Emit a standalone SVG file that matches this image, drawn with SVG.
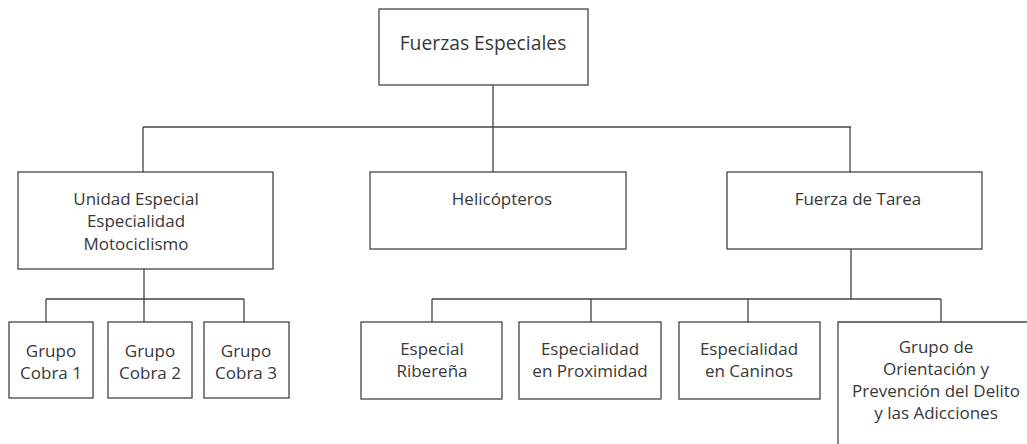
<svg xmlns="http://www.w3.org/2000/svg" width="1027" height="444" viewBox="0 0 1027 444">
<style>
.box{fill:#fff;stroke:#444;stroke-width:1.3}
.ln{fill:none;stroke:#444;stroke-width:1.3}
text{font-family:"Open Sans","Noto Sans",sans-serif;font-size:17px;fill:#383838;text-anchor:middle}
.title{font-size:19.3px}
</style>
<rect width="1027" height="444" fill="#fff"/>
<g id="connectors">
<path class="ln" d="M493 85V127M143 127H851M143 127V172M493 127V172M850 127V172"/>
<path class="ln" d="M144 269V299M46 299H244M46 299V322M144 299V322M244 299V322"/>
<path class="ln" d="M851 249V299M432 299H941M432 299V322M591 299V322M748 299V322M941 299V322"/>
</g>
<g id="n-fuerzas"><rect class="box" x="379" y="9" width="209" height="76"/><text class="title" x="483" y="50">Fuerzas Especiales</text></g>
<g id="n-unidad"><rect class="box" x="18" y="172" width="255" height="97"/><text x="136" y="205">Unidad Especial</text><text x="136" y="227">Especialidad</text><text x="136" y="250">Motociclismo</text></g>
<g id="n-helicopteros"><rect class="box" x="370" y="172" width="256" height="77"/><text x="502" y="205">Helicópteros</text></g>
<g id="n-tarea"><rect class="box" x="727" y="172" width="255" height="77"/><text x="858" y="205">Fuerza de Tarea</text></g>
<g id="n-cobra1"><rect class="box" x="9" y="322" width="84" height="76"/><text x="51" y="357">Grupo</text><text x="51" y="379">Cobra 1</text></g>
<g id="n-cobra2"><rect class="box" x="108" y="322" width="84" height="76"/><text x="150" y="357">Grupo</text><text x="150" y="379">Cobra 2</text></g>
<g id="n-cobra3"><rect class="box" x="204" y="322" width="85" height="76"/><text x="246" y="357">Grupo</text><text x="246" y="379">Cobra 3</text></g>
<g id="n-riberena"><rect class="box" x="361" y="322" width="141" height="77"/><text x="432" y="355">Especial</text><text x="432" y="377">Ribereña</text></g>
<g id="n-proximidad"><rect class="box" x="519" y="322" width="142" height="77"/><text x="590" y="355">Especialidad</text><text x="590" y="377">en Proximidad</text></g>
<g id="n-caninos"><rect class="box" x="679" y="322" width="141" height="77"/><text x="749" y="355">Especialidad</text><text x="749" y="377">en Caninos</text></g>
<g id="n-grupo"><path class="ln" d="M1030 322H838V446"/><text x="936" y="353">Grupo de</text><text x="936" y="375">Orientación y</text><text x="936" y="397">Prevención del Delito</text><text x="936" y="419">y las Adicciones</text></g>
</svg>
